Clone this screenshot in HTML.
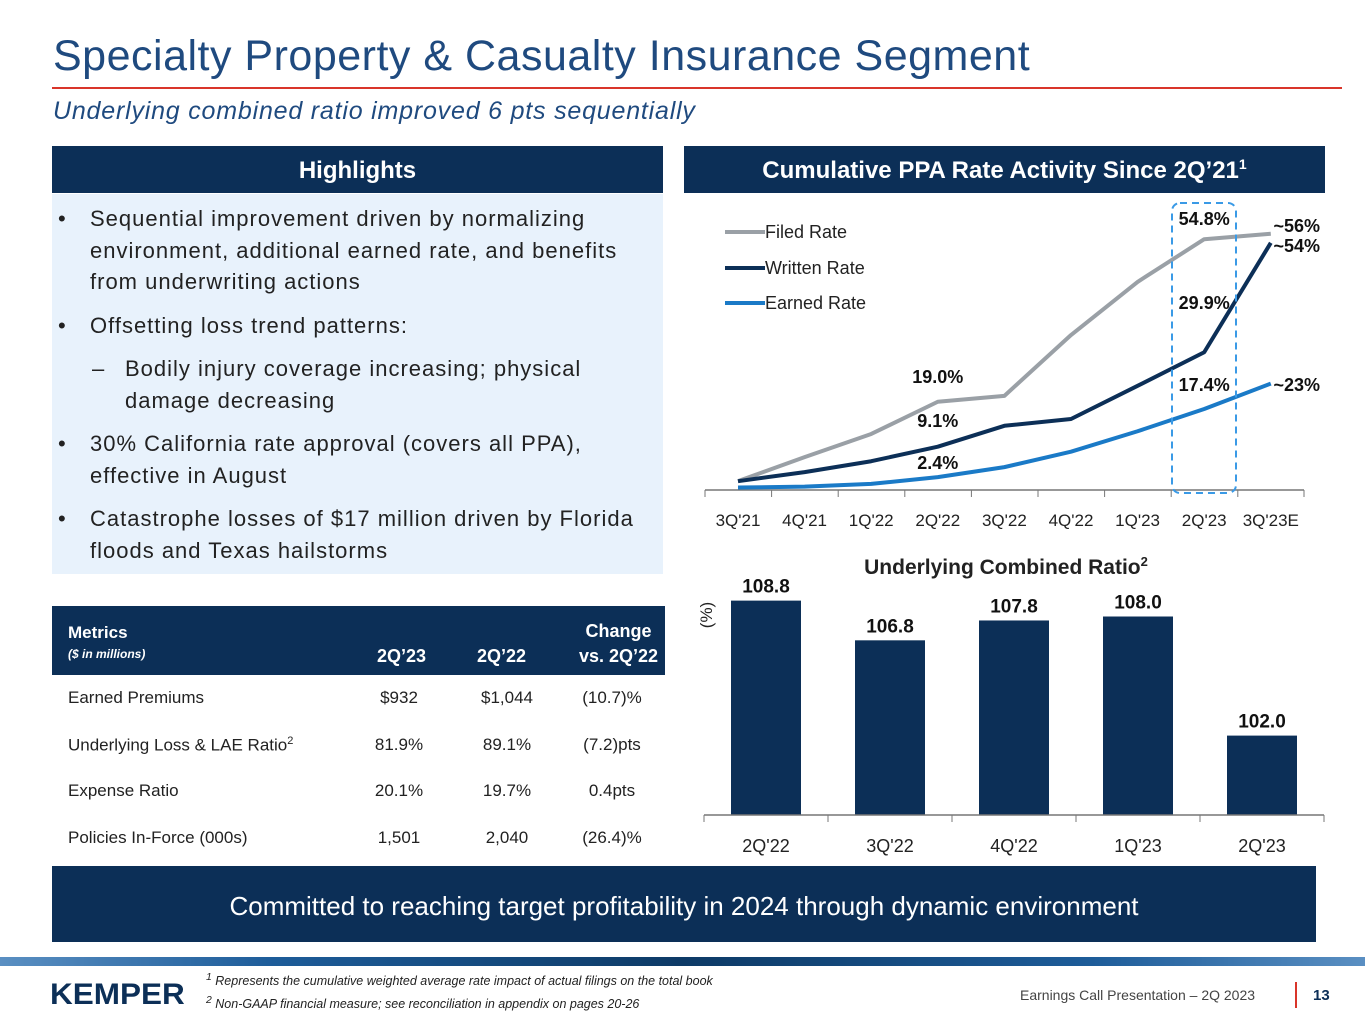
<!DOCTYPE html>
<html><head><meta charset="utf-8"><style>
body{margin:0;width:1365px;height:1024px;position:relative;background:#fff;font-family:"Liberation Sans",sans-serif;overflow:hidden}
.a{position:absolute}
.nv{background:#0c2f57;color:#fff}
ul{margin:0;padding:0;list-style:none}
.hl li{position:relative;padding-left:38px;font-size:22px;line-height:31.5px;color:#222;margin-bottom:12px;letter-spacing:1px}
.hl li:before{content:"•";position:absolute;left:6px}
.hl li.sub{padding-left:73px}
.hl li.sub:before{content:"–";left:40px}
.tr{position:absolute;left:52px;width:613px;font-size:17px;color:#222}
.tr span{position:absolute;top:0}
</style></head><body>
<div class="a" style="left:53px;top:32px;font-size:43px;color:#1f4a7f;letter-spacing:0.5px">Specialty Property &amp; Casualty Insurance Segment</div>
<div class="a" style="left:52px;top:87px;width:1290px;height:2px;background:#d9352a"></div>
<div class="a" style="left:53px;top:97px;font-size:25px;font-style:italic;color:#1f4a7f;letter-spacing:0.8px">Underlying combined ratio improved 6 pts sequentially</div>

<div class="a nv" style="left:52px;top:146px;width:611px;height:47px;font-size:24px;font-weight:bold;text-align:center;line-height:50px">Highlights</div>
<div class="a" style="left:52px;top:194px;width:611px;height:380px;background:#e8f2fc">
<ul class="hl" style="margin-top:9px;padding-right:20px">
<li>Sequential improvement driven by normalizing environment, additional earned rate, and benefits from underwriting actions</li>
<li>Offsetting loss trend patterns:</li>
<li class="sub">Bodily injury coverage increasing; physical damage decreasing</li>
<li>30% California rate approval (covers all PPA), effective in August</li>
<li>Catastrophe losses of $17 million driven by Florida floods and Texas hailstorms</li>
</ul></div>

<div class="a nv" style="left:684px;top:146px;width:641px;height:47px;font-size:24px;font-weight:bold;text-align:center;line-height:50px">Cumulative PPA Rate Activity Since 2Q’21<sup style="font-size:14px;line-height:0">1</sup></div>

<svg class="a" style="left:0;top:0" width="1365" height="1024">
<g id="line"></g><g id="bar"></g></svg>

<div class="a nv" style="left:52px;top:606px;width:613px;height:69px">
<div class="a" style="left:16px;top:17px;font-size:17px;font-weight:bold">Metrics</div>
<div class="a" style="left:16px;top:41px;font-size:12px;font-weight:bold;font-style:italic">($ in millions)</div>
<div class="a" style="left:325px;top:40px;font-size:18px;font-weight:bold">2Q’23</div>
<div class="a" style="left:425px;top:40px;font-size:18px;font-weight:bold">2Q’22</div>
<div class="a" style="left:527px;top:13px;font-size:18px;font-weight:bold;text-align:center;line-height:25px">Change<br>vs. 2Q’22</div>
</div>
<div class="tr" style="top:688px"><span style="left:16px">Earned Premiums</span><span style="left:312px;width:70px;text-align:center">$932</span><span style="left:415px;width:80px;text-align:center">$1,044</span><span style="left:520px;width:80px;text-align:center">(10.7)%</span></div>
<div class="tr" style="top:735px"><span style="left:16px">Underlying Loss &amp; LAE Ratio<sup style="font-size:11px">2</sup></span><span style="left:312px;width:70px;text-align:center">81.9%</span><span style="left:415px;width:80px;text-align:center">89.1%</span><span style="left:520px;width:80px;text-align:center">(7.2)pts</span></div>
<div class="tr" style="top:781px"><span style="left:16px">Expense Ratio</span><span style="left:312px;width:70px;text-align:center">20.1%</span><span style="left:415px;width:80px;text-align:center">19.7%</span><span style="left:520px;width:80px;text-align:center">0.4pts</span></div>
<div class="tr" style="top:828px"><span style="left:16px">Policies In-Force (000s)</span><span style="left:312px;width:70px;text-align:center">1,501</span><span style="left:415px;width:80px;text-align:center">2,040</span><span style="left:520px;width:80px;text-align:center">(26.4)%</span></div>

<div class="a nv" style="left:52px;top:866px;width:1264px;height:76px;font-size:26px;text-align:center;line-height:80px">Committed to reaching target profitability in 2024 through dynamic environment</div>

<div class="a" style="left:0;top:957px;width:1365px;height:9px;background:linear-gradient(90deg,#5a8fc2,#1d5c99 20%,#0d3a66 50%,#1d5c99 80%,#5a8fc2)"></div>
<div class="a" style="left:50px;top:978px;font-size:30px;font-weight:bold;color:#0c2f57;transform:scaleX(1.05);transform-origin:left">KEMPER</div>
<div class="a" style="left:206px;top:968px;font-size:12.5px;font-style:italic;color:#222;line-height:20px"><sup>1</sup> Represents the cumulative weighted average rate impact of actual filings on the total book<br><sup>2</sup> Non-GAAP financial measure; see reconciliation in appendix on pages 20-26</div>
<div class="a" style="left:1020px;top:987px;font-size:14px;color:#444">Earnings Call Presentation – 2Q 2023</div>
<div class="a" style="left:1295px;top:982px;width:2px;height:26px;background:#d9352a"></div>
<div class="a" style="left:1313px;top:987px;font-size:15px;font-weight:bold;color:#0c2f57">13</div>

<script>
const lineCats=["3Q'21","4Q'21","1Q'22","2Q'22","3Q'22","4Q'22","1Q'23","2Q'23","3Q'23E"];
const filed=[1.5,6.8,11.9,19.0,20.3,33.7,45.4,54.8,56];
const written=[1.5,3.5,5.9,9.1,13.7,15.2,22.5,29.9,54];
const earned=[0.1,0.3,0.9,2.4,4.6,8.0,12.5,17.4,23];
const barCats=["2Q'22","3Q'22","4Q'22","1Q'23","2Q'23"];
const ucr=[108.8,106.8,107.8,108.0,102.0];
const NS="http://www.w3.org/2000/svg";
function mk(p,t,a){const e=document.createElementNS(NS,t);for(const k in a)e.setAttribute(k,a[k]);p.appendChild(e);return e;}
const lx=i=>738+i*66.6, ly=v=>488-v*4.54;
const L=document.getElementById('line');
const axis=mk(L,'line',{x1:705,y1:490,x2:1304,y2:490,stroke:'#777','stroke-width':1.5});

lineCats.forEach((c,i)=>{
 const tk=mk(L,'line',{x1:705+i*66.6,y1:490,x2:705+i*66.6,y2:497,stroke:'#777'});
 
 const t=mk(L,'text',{x:lx(i),y:526,'text-anchor':'middle','font-size':17,fill:'#222'});t.textContent=c;
 
});
const lt=mk(L,'line',{x1:1304,y1:490,x2:1304,y2:497,stroke:'#777'});

function series(vals,col,name){
 const p=mk(L,'polyline',{points:vals.map((v,i)=>lx(i)+','+ly(v)).join(' '),fill:'none',stroke:col,'stroke-width':4,'stroke-linejoin':'round'});
 
}
series(filed,'#9aa0a6','filed-rate-line');
series(written,'#0c2f57','written-rate-line');
series(earned,'#1a7ac7','earned-rate-line');
[['Filed Rate','#9aa0a6',232],['Written Rate','#0c2f57',268],['Earned Rate','#1a7ac7',303]].forEach(d=>{
 const l=mk(L,'line',{x1:725,y1:d[2],x2:765,y2:d[2],stroke:d[1],'stroke-width':4});
 
 const t=mk(L,'text',{x:765,y:d[2]+6,'font-size':18,fill:'#222'});t.textContent=d[0];
 
});
function lab(txt,x,y,a){const t=mk(L,'text',{x:x,y:y,'text-anchor':a||'middle','font-size':18,'font-weight':'bold',fill:'#111'});t.textContent=txt;
 }
lab(filed[3].toFixed(1)+'%',lx(3),383);lab(written[3].toFixed(1)+'%',lx(3),427);lab(earned[3].toFixed(1)+'%',lx(3),469);
lab(filed[7].toFixed(1)+'%',lx(7),225);lab(written[7].toFixed(1)+'%',lx(7),309);lab(earned[7].toFixed(1)+'%',lx(7),391);
lab('~'+filed[8]+'%',1320,232,'end');lab('~'+written[8]+'%',1320,252,'end');lab('~'+earned[8]+'%',1320,391,'end');
const hb=mk(L,'rect',{x:1172,y:203,width:64,height:290,rx:8,fill:'none',stroke:'#3a9ae6','stroke-width':2,'stroke-dasharray':'7,5'});


const B=document.getElementById('bar');
const bx=i=>766+i*124, by=v=>815-(v-98)*19.85;
const bt=mk(B,'text',{x:1006,y:574,'text-anchor':'middle','font-size':21,'font-weight':'bold',fill:'#222'});
bt.innerHTML='Underlying Combined Ratio<tspan font-size="13" dy="-8">2</tspan>';

const yl=mk(B,'text',{x:0,y:0,'font-size':17,fill:'#222',transform:'translate(712,615) rotate(-90)','text-anchor':'middle'});yl.textContent='(%)';

ucr.forEach((v,i)=>{
 const r=mk(B,'rect',{x:bx(i)-35,y:by(v),width:70,height:815-by(v),fill:'#0c2f57'});
 
 const t=mk(B,'text',{x:bx(i),y:by(v)-8,'text-anchor':'middle','font-size':19,'font-weight':'bold',fill:'#111'});t.textContent=v.toFixed(1);
 
 const c=mk(B,'text',{x:bx(i),y:852,'text-anchor':'middle','font-size':18,fill:'#222'});c.textContent=barCats[i];
 
});
const ba=mk(B,'line',{x1:704,y1:815,x2:1324,y2:815,stroke:'#777','stroke-width':1.5});

for(let i=0;i<=5;i++){const k=mk(B,'line',{x1:704+i*124,y1:815,x2:704+i*124,y2:822,stroke:'#777'});
 }
</script>
</body></html>
